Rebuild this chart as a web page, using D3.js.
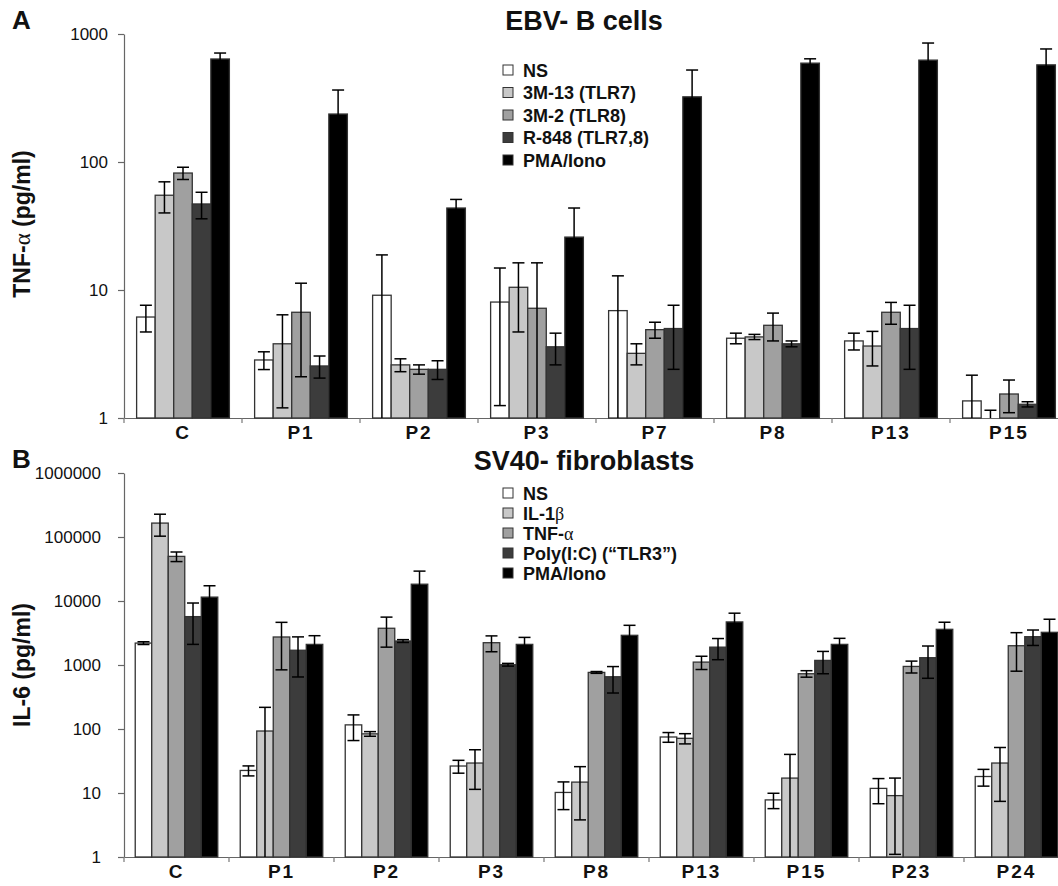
<!DOCTYPE html>
<html>
<head>
<meta charset="utf-8">
<script src="https://cdn.jsdelivr.net/npm/d3@7"></script>
<style>
  body { margin: 0; background: #fff; }
  text { font-family: "Liberation Sans", Arial, sans-serif; fill: #111; }
</style>
</head>
<body>
<svg id="chart" width="1058" height="886"></svg>
<script>
// ----- Panel A: EBV- B cells, TNF-a (pg/ml) -----
const catsA   = ["C", "P1", "P2", "P3", "P7", "P8", "P13", "P15"];
const seriesA = ["NS", "3M-13 (TLR7)", "3M-2 (TLR8)", "R-848 (TLR7,8)", "PMA/Iono"];
const aNS    = [6.15, 2.84, 9.1, 8.05, 6.9, 4.2, 4.0, 1.36];
const a3M13  = [55, 3.8, 2.6, 10.5, 3.2, 4.3, 3.65, 0.8];
const a3M2   = [82, 6.7, 2.4, 7.2, 4.9, 5.3, 6.7, 1.54];
const aR848  = [47, 2.55, 2.4, 3.6, 5.0, 3.8, 5.0, 1.28];
const aPMA   = [638, 237, 43.7, 25.9, 323, 592, 625, 574];
// standard deviations
const aNSsd   = [1.45, 0.45, 9.7, 6.8, 6.0, 0.4, 0.6, 0.8];
const a3M13sd = [15, 2.6, 0.3, 5.8, 0.6, 0.2, 1.1, 0.35];
const a3M2sd  = [9, 4.6, 0.2, 9.1, 0.7, 1.3, 1.3, 0.44];
const aR848sd = [11, 0.5, 0.4, 1.0, 2.6, 0.2, 2.6, 0.06];
const aPMAsd  = [72, 128, 7.3, 17.8, 200, 48, 225, 190];
const ticksA  = [1, 10, 100, 1000];

// ----- Panel B: SV40- fibroblasts, IL-6 (pg/ml) -----
const catsB   = ["C", "P1", "P2", "P3", "P8", "P13", "P15", "P23", "P24"];
const seriesB = ["NS", "IL-1β", "TNF-α", "Poly(I:C) (“TLR3”)", "PMA/Iono"];
const bNS    = [2200, 22.5, 116, 26.4, 10.2, 75, 7.8, 11.8, 18.1];
const bIL1b  = [165000, 93, 84, 29.4, 14.8, 71.5, 17.1, 9.1, 29.4];
const bTNF   = [49800, 2740, 3750, 2230, 766, 1110, 730, 950, 2000];
const bPoly  = [5700, 1700, 2370, 1010, 655, 1900, 1180, 1300, 2770];
const bPMA   = [11500, 2100, 18300, 2100, 2910, 4710, 2100, 3610, 3240];
const bNSsd   = [110, 4, 50, 6, 4.7, 13, 2.1, 5, 5.3];
const bIL1bsd = [62000, 125, 7, 18, 11, 13, 23, 8, 22];
const bTNFsd  = [8500, 1900, 1850, 620, 25, 260, 85, 200, 1200];
const bPolysd = [3600, 1050, 120, 50, 290, 690, 450, 680, 750];
const bPMAsd  = [5800, 770, 11000, 600, 1260, 1740, 510, 1050, 1950];
const ticksB  = [1, 10, 100, 1000, 10000, 100000, 1000000];

const fills = ["#ffffff", "#c8c8c8", "#a0a0a0", "#3c3c3c", "#000000"];

const svg = d3.select("#chart");

// write text, greek letters in a plain (non-bold) serif like the original Symbol font
function rich(sel, str) {
  str.split(/([αβ])/).filter(s => s.length).forEach(part => {
    const t = sel.append("tspan").text(part);
    if (/[αβ]/.test(part)) t.attr("font-weight", "normal").style("font-family", "'Liberation Serif', serif");
  });
}

function panel(cfg) {
  const g = svg.append("g");
  const x0 = d3.scaleBand().domain(cfg.cats).range(cfg.xRange);
  const x1 = d3.scaleBand().domain(cfg.series).range([0, x0.bandwidth()]).paddingOuter(0.68);
  const y = d3.scaleLog().domain(cfg.yDomain).range(cfg.yRange);
  const ymin = cfg.yDomain[0];
  const bw = x1.bandwidth();

  // y axis
  const ya = g.append("g")
    .attr("transform", `translate(${cfg.xRange[0]},0)`)
    .call(d3.axisLeft(y).tickValues(cfg.ticks).tickFormat(d3.format("d"))
      .tickSize(6).tickSizeOuter(0).tickPadding(cfg.tickPad));
  ya.selectAll("path, line").attr("stroke", "#666").attr("stroke-width", 1.2);
  ya.selectAll("text").attr("font-size", 17).style("fill", "#111")
    .style("font-family", "'Liberation Sans', Arial, sans-serif");

  // x axis (labels centred in bands, ticks on band boundaries)
  const xa = g.append("g")
    .attr("transform", `translate(0,${cfg.yRange[0]})`)
    .call(d3.axisBottom(x0).tickSize(0).tickSizeOuter(0).tickPadding(cfg.catPad));
  xa.select("path").attr("stroke", "#666").attr("stroke-width", 1.2);
  xa.selectAll("text").attr("font-size", 19).attr("font-weight", "bold")
    .attr("letter-spacing", 2).style("fill", "#111")
    .style("font-family", "'Liberation Sans', Arial, sans-serif");
  g.append("g").selectAll("line").data(cfg.cats).join("line")
    .attr("x1", d => x0(d)).attr("x2", d => x0(d))
    .attr("y1", cfg.yRange[0]).attr("y2", cfg.yRange[0] + 5)
    .attr("stroke", "#777").attr("stroke-width", 1.2);

  // bars
  const rows = [];
  cfg.series.forEach((s, j) => cfg.cats.forEach((c, i) => {
    rows.push({ s, j, c, v: cfg.values[j][i], sd: cfg.sds[j][i] });
  }));
  g.append("g").selectAll("rect").data(rows.filter(d => d.v > ymin)).join("rect")
    .attr("x", d => x0(d.c) + x1(d.s))
    .attr("y", d => y(d.v))
    .attr("width", bw)
    .attr("height", d => y(ymin) - y(d.v))
    .attr("fill", d => fills[d.j])
    .attr("stroke", "#333").attr("stroke-width", 1.3);

  // error bars
  const eb = g.append("g").attr("stroke", "#000").attr("stroke-width", 1.5);
  rows.forEach(d => {
    const cx = x0(d.c) + x1(d.s) + bw / 2;
    const hi = d.v + d.sd, lo = d.v - d.sd;
    const yHi = y(hi), yLo = lo > ymin ? y(lo) : y(ymin);
    eb.append("line").attr("x1", cx).attr("x2", cx).attr("y1", yHi).attr("y2", yLo);
    eb.append("line").attr("x1", cx - 6).attr("x2", cx + 6).attr("y1", yHi).attr("y2", yHi);
    if (lo > ymin) eb.append("line").attr("x1", cx - 6).attr("x2", cx + 6).attr("y1", yLo).attr("y2", yLo);
  });

  // title, panel letter, y label
  g.append("text").attr("x", 584).attr("y", cfg.titleY).attr("text-anchor", "middle")
    .attr("font-size", 27).attr("font-weight", "bold").text(cfg.title);
  g.append("text").attr("x", 12).attr("y", cfg.letterY)
    .attr("font-size", 26).attr("font-weight", "bold").text(cfg.letter);
  const yl = g.append("text")
    .attr("transform", `translate(30,${cfg.ylabelY}) rotate(-90)`)
    .attr("text-anchor", "middle").attr("font-size", 23).attr("font-weight", "bold");
  rich(yl, cfg.ylabel);

  // legend
  const lg = g.append("g").attr("transform", `translate(503,${cfg.legendY})`);
  cfg.series.forEach((s, j) => {
    const row = lg.append("g").attr("transform", `translate(0,${j * cfg.legendStep})`);
    row.append("rect").attr("x", 0).attr("y", -5).attr("width", 10).attr("height", 10)
      .attr("fill", fills[j]).attr("stroke", "#333").attr("stroke-width", 1);
    const t = row.append("text").attr("x", 20).attr("y", 6.5)
      .attr("font-size", 18).attr("font-weight", "bold");
    rich(t, s);
  });
}

panel({
  cats: catsA, series: seriesA,
  values: [aNS, a3M13, a3M2, aR848, aPMA],
  sds: [aNSsd, a3M13sd, a3M2sd, aR848sd, aPMAsd],
  yDomain: [1, 1000], yRange: [418, 34], xRange: [124, 124 + 8 * 118],
  ticks: ticksA, tickPad: 10, catPad: 8,
  title: "EBV- B cells", titleY: 30, letter: "A", letterY: 29,
  ylabel: "TNF-α (pg/ml)", ylabelY: 224,
  legendY: 70, legendStep: 22.5
});

panel({
  cats: catsB, series: seriesB,
  values: [bNS, bIL1b, bTNF, bPoly, bPMA],
  sds: [bNSsd, bIL1bsd, bTNFsd, bPolysd, bPMAsd],
  yDomain: [1, 1000000], yRange: [857, 473], xRange: [124, 124 + 9 * 105],
  ticks: ticksB, tickPad: 17, catPad: 8,
  title: "SV40- fibroblasts", titleY: 470, letter: "B", letterY: 468,
  ylabel: "IL-6 (pg/ml)", ylabelY: 665,
  legendY: 493, legendStep: 20
});
</script>
</body>
</html>
